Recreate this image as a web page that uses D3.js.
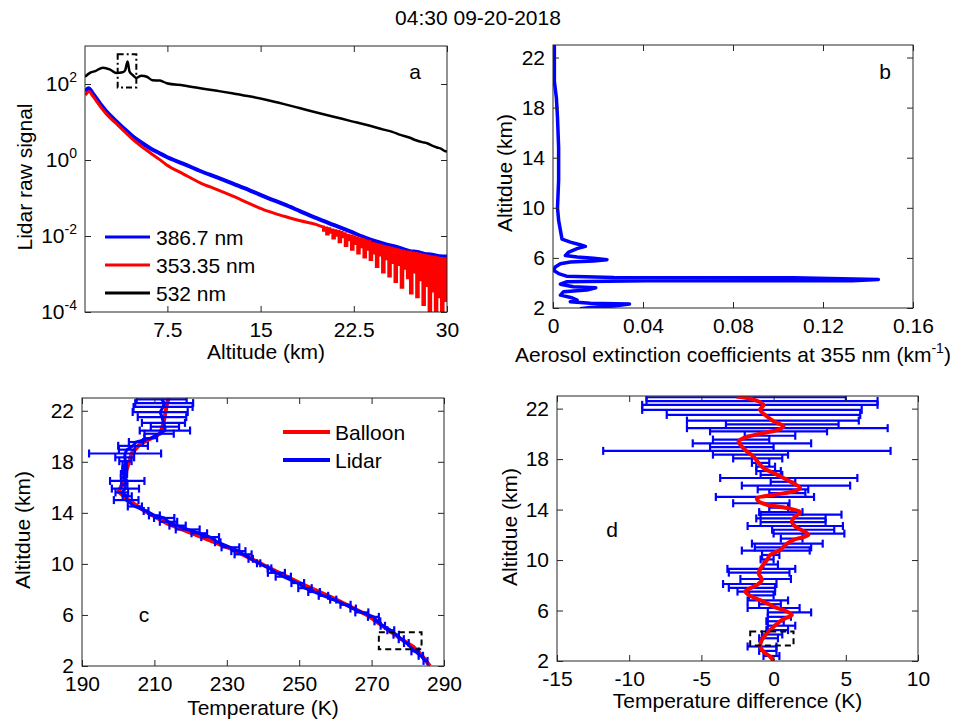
<!DOCTYPE html>
<html>
<head>
<meta charset="utf-8">
<script src="https://cdn.jsdelivr.net/npm/d3@7"></script>
<style>
body { margin: 0; background: #fff; }
text { font-family: "Liberation Sans", Arial, sans-serif; }
</style>
</head>
<body>
<div id="chart"></div>
<script>
// ---- panel a: raw lidar signals (altitude km, log10 of signal)
var blueKm  = [0.9, 1.15, 1.5, 2.08, 2.7, 3.42, 4.1, 4.76, 5.4, 6.11, 6.8, 7.45, 8.8, 10.14, 11.5, 12.82, 14.2, 15.51, 16.9, 18.2, 19.5, 20.88, 22.2, 23.57, 24.9, 26.25, 27.0, 27.6, 28.2, 28.8, 29.4, 30];
var blueLog = [1.80, 1.89, 1.75, 1.49, 1.24, 1.01, 0.80, 0.61, 0.46, 0.31, 0.19, 0.08, -0.10, -0.29, -0.46, -0.63, -0.81, -0.99, -1.17, -1.35, -1.53, -1.71, -1.88, -2.06, -2.20, -2.32, -2.40, -2.42, -2.47, -2.49, -2.53, -2.54];

var redKm  = [0.9, 1.2, 1.5, 2.08, 2.7, 3.42, 4.1, 4.76, 5.4, 6.11, 6.8, 7.45, 8.8, 10.14, 11.5, 12.82, 14.2, 15.51, 16.9, 18.2, 19.5,
  20.0, 20.12, 20.25, 20.38, 20.5, 20.62, 20.75, 20.88, 21.0, 21.12, 21.25, 21.38, 21.5, 21.62, 21.75, 21.88,
  22.0, 22.12, 22.25, 22.38, 22.5, 22.62, 22.75, 22.88, 23.0, 23.12, 23.25, 23.38, 23.5, 23.62, 23.75, 23.88,
  24.0, 24.12, 24.25, 24.38, 24.5, 24.62, 24.75, 24.88, 25.0, 25.12, 25.25, 25.38, 25.5, 25.62, 25.75, 25.88,
  26.0, 26.12, 26.25, 26.38, 26.5, 26.62, 26.75, 26.88, 27.0, 27.12, 27.25, 27.38, 27.5, 27.62, 27.75, 27.88,
  28.0, 28.12, 28.25, 28.38, 28.5, 28.62, 28.75, 28.88, 29.0, 29.12, 29.25, 29.38, 29.5, 29.62, 29.75, 29.88, 30.0];
var redLog = [1.71, 1.80, 1.68, 1.42, 1.17, 0.95, 0.73, 0.53, 0.36, 0.19, 0.03, -0.13, -0.37, -0.60, -0.78, -0.96, -1.16, -1.34, -1.48, -1.60, -1.70,
  -1.76, -1.85, -1.79, -1.95, -1.81, -1.90, -1.84, -2.05, -1.86, -1.98, -1.88, -2.15, -1.91, -2.02, -1.94, -2.25,
  -1.98, -2.10, -2.00, -2.35, -2.02, -2.20, -2.05, -2.45, -2.08, -2.28, -2.10, -2.55, -2.13, -2.35, -2.15, -2.62,
  -2.20, -2.45, -2.22, -2.80, -2.24, -2.50, -2.26, -2.95, -2.28, -2.60, -2.30, -3.05, -2.32, -2.70, -2.34, -3.20,
  -2.36, -2.75, -2.38, -3.35, -2.40, -2.85, -2.42, -3.10, -2.43, -3.50, -2.45, -2.95, -2.46, -3.60, -2.48, -3.15,
  -2.50, -3.80, -2.52, -3.30, -2.53, -4.0, -2.55, -3.45, -2.56, -4.0, -2.58, -3.60, -2.59, -4.0, -2.60, -3.70, -2.62];

var blackKm  = [0.87, 1.3, 1.7, 2.3, 2.9, 3.4, 3.9, 4.1, 4.3, 4.45, 4.7, 5.0, 5.4, 5.85, 6.3, 6.9, 7.45, 8.8, 10.14, 11.5, 12.82, 14.2, 15.51, 16.9, 18.2, 19.5, 20.88, 22.2, 23.57, 24.9, 25.6, 26.25, 26.9, 27.5, 28.0, 28.4, 28.8, 29.2, 29.5, 29.8, 30];
var blackLog = [2.19, 2.30, 2.34, 2.43, 2.38, 2.29, 2.31, 2.36, 2.59, 2.33, 2.24, 2.16, 2.22, 2.19, 2.10, 2.09, 2.02, 1.96, 1.89, 1.82, 1.75, 1.67, 1.58, 1.47, 1.36, 1.25, 1.14, 1.03, 0.92, 0.80, 0.74, 0.66, 0.60, 0.52, 0.47, 0.44, 0.38, 0.33, 0.30, 0.24, 0.22];

var legendA = ["386.7 nm", "353.35 nm", "532 nm"];

// ---- panel b: aerosol extinction at 355 nm
var extAlt = [23.0, 20.1, 18.8, 17.2, 14.8, 12.2, 10.0, 9.0, 8.2, 7.5, 7.26, 7.05, 6.92, 6.74, 6.47, 6.2, 6.07, 5.97, 5.86, 5.76, 5.68, 5.54, 5.28, 5.0, 4.75, 4.54, 4.43, 4.41, 4.28, 4.17, 4.17, 4.09, 3.9, 3.69, 3.61, 3.43, 3.3, 3.03, 2.82, 2.63, 2.5, 2.37, 2.32, 2.16, 2.05, 1.95];
var extVal = [0.0006, 0.0006, 0.0015, 0.002, 0.0025, 0.0025, 0.002, 0.0025, 0.0033, 0.004, 0.0077, 0.012, 0.0144, 0.0107, 0.007, 0.0055, 0.0107, 0.018, 0.024, 0.018, 0.0077, 0.0033, 0.001, 0.0003, 0.0025, 0.006, 0.027, 0.107, 0.1446, 0.133, 0.042, 0.006, 0.0033, 0.009, 0.019, 0.015, 0.0047, 0.0033, 0.0084, 0.0107, 0.0077, 0.0166, 0.034, 0.027, 0.0166, 0.012];

// ---- panel c: balloon and lidar temperature
var balAlt  = [2.0, 2.86, 3.51, 4.17, 5.08, 6.0, 7.3, 8.48, 9.78, 11.09, 12.13, 13.17, 14.2, 15.1, 15.65, 16.2, 17.1, 17.9, 18.7, 19.4, 19.8, 20.2, 21.0, 21.8, 22.6, 23.0];
var balTemp = [286.1, 283.8, 281.5, 277.9, 273.3, 268.7, 259.5, 250.3, 241.1, 231.9, 222.7, 213.5, 207.0, 202.4, 200.1, 201.0, 202.0, 202.9, 203.8, 206.1, 208.9, 211.6, 212.5, 213.0, 213.5, 214.0];

var lidAlt = [22.9, 22.6, 22.3, 21.9, 21.5, 21.05, 20.75, 20.45, 20.2, 19.85, 19.55, 19.25, 18.95, 18.65, 18.35, 18.05, 17.7, 17.4, 17.05, 16.75, 16.5, 16.2, 15.9, 15.6, 15.3, 15.0, 14.5, 14.15, 13.8, 13.6, 13.3, 13.0, 12.7, 12.4, 12.1, 11.7, 11.3, 11.0, 10.75, 10.4, 10.05, 9.65, 9.3, 9.0, 8.5, 8.1, 7.8, 7.5, 7.2, 6.8, 6.5, 6.2, 5.85, 5.5, 5.15, 4.8, 4.45, 4.1, 3.8, 3.15, 2.8, 2.4];
var lidTemp = [212.0, 212.7, 212.4, 211.6, 212.1, 212.5, 212.9, 212.9, 211.3, 209.0, 204.9, 204.1, 202.4, 201.9, 201.8, 202.0, 201.8, 201.8, 201.6, 201.5, 202.5, 201.7, 202.0, 201.0, 202.5, 202.2, 204.6, 207.7, 210.0, 212.7, 213.9, 216.4, 219.2, 222.4, 225.4, 227.5, 231.0, 233.2, 234.5, 236.6, 238.8, 241.8, 243.7, 245.6, 249.6, 251.6, 254.1, 256.7, 259.4, 262.8, 264.9, 267.3, 270.5, 271.6, 273.1, 275.3, 276.8, 278.2, 279.6, 282.0, 283.6, 284.9];
var lidErr = [6.9, 8.0, 8.15, 7.6, 6.7, 5.95, 3.9, 6.95, 4.05, 1.75, 1.95, 4.1, 2.2, 9.95, 2.6, 1.7, 0.6, 0.65, 0.85, 0.75, 4.75, 0.85, 3.75, 1.75, 1.25, 3.4, 1.95, 0.65, 1.5, 2.8, 2.4, 2.25, 3.3, 2.15, 2.45, 0.75, 2.45, 1.95, 2.35, 0.6, 0.45, 0.5, 2.35, 2.1, 1.75, 1.85, 1.6, 1.3, 0.85, 1.4, 0.75, 1.8, 1.5, 0.8, 0.6, 0.95, 0.75, 0.7, 0.65, 1.0, 0.6, 0.55];

// ---- panel d: lidar minus balloon
var tempDiff = [-1.9, -0.8, -0.95, -1.5, -0.7, -0.05, 0.6, 0.95, -0.35, -0.25, -2.25, -1.5, -2.2, -1.85, -1.6, -1.1, -0.9, -0.55, -0.35, -0.15, 1.05, 0.65, 1.55, 0.65, 0.95, -0.6, -0.85, 0.35, 0.5, 1.9, 1.2, 1.35, 1.5, 2.05, 2.45, 1.25, 0.95, 0.65, 0.15, -0.2, -0.45, -0.2, -0.85, -1.0, -0.55, -1.65, -1.5, -1.2, -0.85, -0.4, -0.25, 0, 1.1, 0.4, 0.1, 0.55, 0.25, -0.1, -0.35, -0.8, -0.4, -0.15];
var smAlt  = [22.93, 22.71, 22.3, 21.9, 21.4, 21.0, 20.6, 20.33, 20.07, 19.67, 19.4, 19.0, 18.6, 18.2, 17.69, 17.29, 16.9, 16.5, 16.23, 15.7, 15.44, 15.17, 14.9, 14.65, 14.38, 14.12, 13.8, 13.46, 13.06, 12.66, 12.0, 11.6, 11.2, 10.81, 10.41, 10.0, 9.49, 8.96, 8.43, 8.03, 7.5, 7.1, 6.71, 6.31, 5.92, 5.65, 5.25, 4.72, 4.2, 3.67, 3.14, 2.74, 2.34, 2.0];
var smDiff = [-2.55, -1.39, -0.7, -0.93, -0.47, 0, 0.69, 0.34, -0.7, -2.08, -2.43, -2.2, -1.85, -1.39, -1.04, -0.7, 0, 0.69, 1.14, 1.84, 1.38, 0, -1.15, -1.04, -0.46, 0.92, 1.84, 1.5, 1.27, 1.5, 2.42, 1.38, 0.81, 0.46, -0.23, -0.46, -0.81, -1.04, -0.81, -1.15, -1.96, -1.5, -0.7, 0, 0.92, 1.27, 0.58, 0, -0.46, -0.81, -0.92, -0.7, -0.23, 0];

var FONT = 21;
var svg = d3.select("#chart").append("svg")
  .attr("width", 967)
  .attr("height", 721);

svg.append("text")
  .attr("x", 478).attr("y", 25)
  .attr("text-anchor", "middle")
  .attr("font-size", FONT)
  .text("04:30 09-20-2018");

// draws box, inward ticks (mirrored) and tick labels; returns clipped group for marks
function makePanel(id, box, x, y, xTicks, yTicks, xFmt, yFmt) {
  var g = svg.append("g");
  svg.append("clipPath").attr("id", "clip-" + id)
    .append("rect")
    .attr("x", box.left).attr("y", box.top)
    .attr("width", box.right - box.left).attr("height", box.bottom - box.top);
  var plot = g.append("g").attr("clip-path", "url(#clip-" + id + ")");

  function style(sel) {
    sel.attr("font-size", FONT).attr("font-family", "Liberation Sans, Arial, sans-serif").attr("color", "#000");
    sel.select(".domain").remove();
    sel.selectAll(".tick line").attr("stroke", "#262626");
  }
  g.append("g").attr("transform", `translate(0,${box.bottom})`)
    .call(d3.axisBottom(x).tickValues(xTicks).tickSizeInner(-6).tickSizeOuter(0).tickPadding(10).tickFormat(xFmt))
    .call(style);
  g.append("g").attr("transform", `translate(0,${box.top})`)
    .call(d3.axisTop(x).tickValues(xTicks).tickSizeInner(-6).tickSizeOuter(0).tickFormat(""))
    .call(style);
  var yAxis = g.append("g").attr("transform", `translate(${box.left},0)`)
    .call(d3.axisLeft(y).tickValues(yTicks).tickSizeInner(-6).tickSizeOuter(0).tickPadding(8).tickFormat(yFmt))
    .call(style);
  g.append("g").attr("transform", `translate(${box.right},0)`)
    .call(d3.axisRight(y).tickValues(yTicks).tickSizeInner(-6).tickSizeOuter(0).tickFormat(""))
    .call(style);
  g.append("rect")
    .attr("x", box.left).attr("y", box.top)
    .attr("width", box.right - box.left).attr("height", box.bottom - box.top)
    .attr("fill", "none").attr("stroke", "#262626").attr("stroke-width", 1);
  return { plot: plot, g: g, yAxis: yAxis };
}

function axisLabels(box, xLabel, xBase, yLabel, yCx, yCy) {
  var xl = svg.append("text")
    .attr("x", (box.left + box.right) / 2).attr("y", xBase)
    .attr("text-anchor", "middle").attr("font-size", FONT);
  if (typeof xLabel === "function") xLabel(xl); else xl.text(xLabel);
  svg.append("text")
    .attr("transform", `translate(${yCx + 7},${yCy}) rotate(-90)`)
    .attr("text-anchor", "middle").attr("font-size", FONT)
    .text(yLabel);
}

function panelLetter(x, y, s) {
  svg.append("text").attr("x", x).attr("y", y).attr("dy", "0.35em")
    .attr("text-anchor", "middle").attr("font-size", FONT).text(s);
}

// ================= panel a
var boxA = { left: 85, right: 447, top: 46, bottom: 312 };
var xA = d3.scaleLinear().domain([0.87, 30]).range([boxA.left, boxA.right]);
var yA = d3.scaleLog().domain([1e-4, 1e3]).range([boxA.bottom, boxA.top]);
var pA = makePanel("a", boxA, xA, yA, [7.5, 15, 22.5, 30], [1e-4, 1e-2, 1, 1e2], d => String(d), "");
pA.yAxis.selectAll(".tick text").each(function(d) {
  var t = d3.select(this);
  t.text("10");
  t.append("tspan").attr("dy", -9).attr("font-size", 14).text(Math.round(Math.log10(d)));
});

var lineA = d3.line().x(d => xA(d[0])).y(d => yA(Math.pow(10, d[1]))).curve(d3.curveMonotoneX);
var stepA = d3.line().x(d => xA(d[0])).y(d => yA(Math.pow(10, d[1]))).curve(d3.curveStep);
var redPts = d3.zip(redKm, redLog);
pA.plot.append("path").datum(d3.zip(blueKm, blueLog)).attr("d", lineA)
  .attr("fill", "none").attr("stroke", "#0000ff").attr("stroke-width", 4);
pA.plot.append("path").datum(redPts.filter(d => d[0] <= 20)).attr("d", lineA)
  .attr("fill", "none").attr("stroke", "#ff0000").attr("stroke-width", 3);
pA.plot.append("path").datum(redPts.filter(d => d[0] >= 20)).attr("d", stepA)
  .attr("fill", "none").attr("stroke", "#ff0000").attr("stroke-width", 3);
pA.plot.append("path").datum(d3.zip(blackKm, blackLog)).attr("d", lineA)
  .attr("fill", "none").attr("stroke", "#000").attr("stroke-width", 2.5);
// dash-dot box around the spike
pA.plot.append("rect")
  .attr("x", xA(3.5)).attr("y", yA(Math.pow(10, 2.78)))
  .attr("width", xA(5.0) - xA(3.5)).attr("height", yA(Math.pow(10, 1.91)) - yA(Math.pow(10, 2.78)))
  .attr("fill", "none").attr("stroke", "#000").attr("stroke-width", 2).attr("stroke-dasharray", "6,3,2,3");

var colA = ["#0000ff", "#ff0000", "#000"];
legendA.forEach(function(s, i) {
  var yy = 237 + i * 28;
  svg.append("line").attr("x1", 105).attr("x2", 150).attr("y1", yy).attr("y2", yy)
    .attr("stroke", colA[i]).attr("stroke-width", 3);
  svg.append("text").attr("x", 156).attr("y", yy).attr("dy", "0.36em").attr("font-size", FONT).text(s);
});
panelLetter(415, 72, "a");
axisLabels(boxA, "Altitude (km)", 359, "Lidar raw signal", 25, 177);

// ================= panel b
var boxB = { left: 553, right: 913, top: 45, bottom: 308 };
var xB = d3.scaleLinear().domain([0, 0.16]).range([boxB.left, boxB.right]);
var yB = d3.scaleLinear().domain([2, 23]).range([boxB.bottom, boxB.top]);
var pB = makePanel("b", boxB, xB, yB, [0, 0.04, 0.08, 0.12, 0.16], [2, 6, 10, 14, 18, 22], d => String(d), d => String(d));
pB.plot.append("path").datum(d3.zip(extVal, extAlt))
  .attr("d", d3.line().x(d => xB(d[0])).y(d => yB(d[1])))
  .attr("fill", "none").attr("stroke", "#0000ff").attr("stroke-width", 3.5).attr("stroke-linejoin", "round");
panelLetter(885, 72, "b");
axisLabels(boxB, function(t) {
  t.text("Aerosol extinction coefficients at 355 nm (km");
  t.append("tspan").attr("dy", -9).attr("font-size", 14).text("-1");
  t.append("tspan").attr("dy", 9).text(")");
}, 362, "Altitdue (km)", 505, 173);

// ================= panel c
var boxC = { left: 82, right: 444, top: 398, bottom: 666 };
var xC = d3.scaleLinear().domain([190, 290]).range([boxC.left, boxC.right]);
var yC = d3.scaleLinear().domain([2, 23]).range([boxC.bottom, boxC.top]);
var pC = makePanel("c", boxC, xC, yC, [190, 210, 230, 250, 270, 290], [2, 6, 10, 14, 18, 22], d => String(d), d => String(d));
pC.plot.append("path").datum(d3.zip(balTemp, balAlt))
  .attr("d", d3.line().x(d => xC(d[0])).y(d => yC(d[1])))
  .attr("fill", "none").attr("stroke", "#ff0000").attr("stroke-width", 4);

var lid = d3.range(lidAlt.length).map(i => ({ alt: lidAlt[i], t: lidTemp[i], e: lidErr[i], d: tempDiff[i] }));

function errorBars(plot, x, y, lo, hi) {
  var eb = plot.append("g").attr("stroke", "#0000ff").attr("stroke-width", 2.2);
  eb.selectAll(".bar").data(lid).enter().append("line")
    .attr("x1", d => x(lo(d))).attr("x2", d => x(hi(d)))
    .attr("y1", d => y(d.alt)).attr("y2", d => y(d.alt));
  eb.selectAll(".capl").data(lid).enter().append("line")
    .attr("x1", d => x(lo(d))).attr("x2", d => x(lo(d)))
    .attr("y1", d => y(d.alt) - 4).attr("y2", d => y(d.alt) + 4);
  eb.selectAll(".capr").data(lid).enter().append("line")
    .attr("x1", d => x(hi(d))).attr("x2", d => x(hi(d)))
    .attr("y1", d => y(d.alt) - 4).attr("y2", d => y(d.alt) + 4);
}
errorBars(pC.plot, xC, yC, d => d.t - d.e, d => d.t + d.e);
pC.plot.append("path").datum(lid)
  .attr("d", d3.line().x(d => xC(d.t)).y(d => yC(d.alt)))
  .attr("fill", "none").attr("stroke", "#0000ff").attr("stroke-width", 3);
pC.plot.append("rect")
  .attr("x", xC(272)).attr("y", yC(4.64))
  .attr("width", xC(283.8) - xC(272)).attr("height", yC(3.31) - yC(4.64))
  .attr("fill", "none").attr("stroke", "#000").attr("stroke-width", 2).attr("stroke-dasharray", "6,4");

[["Balloon", "#ff0000", 432], ["Lidar", "#0000ff", 460]].forEach(function(l) {
  svg.append("line").attr("x1", 283).attr("x2", 330).attr("y1", l[2]).attr("y2", l[2])
    .attr("stroke", l[1]).attr("stroke-width", 4);
  svg.append("text").attr("x", 335).attr("y", l[2]).attr("dy", "0.36em").attr("font-size", FONT).text(l[0]);
});
panelLetter(144, 615, "c");
axisLabels(boxC, "Temperature (K)", 715, "Altitdue (km)", 23, 530);

// ================= panel d
var boxD = { left: 557, right: 918, top: 396, bottom: 661 };
var xD = d3.scaleLinear().domain([-15, 10]).range([boxD.left, boxD.right]);
var yD = d3.scaleLinear().domain([2, 23]).range([boxD.bottom, boxD.top]);
var pD = makePanel("d", boxD, xD, yD, [-15, -10, -5, 0, 5, 10], [2, 6, 10, 14, 18, 22], d => String(d), d => String(d));
errorBars(pD.plot, xD, yD, d => d.d - d.e, d => d.d + d.e);
pD.plot.append("path").datum(d3.zip(smDiff, smAlt))
  .attr("d", d3.line().x(d => xD(d[0])).y(d => yD(d[1])).curve(d3.curveCatmullRom))
  .attr("fill", "none").attr("stroke", "#ff0000").attr("stroke-width", 4);
pD.plot.append("rect")
  .attr("x", xD(-1.62)).attr("y", yD(4.33))
  .attr("width", xD(1.38) - xD(-1.62)).attr("height", yD(3.22) - yD(4.33))
  .attr("fill", "none").attr("stroke", "#000").attr("stroke-width", 2).attr("stroke-dasharray", "6,4");
panelLetter(612, 530, "d");
axisLabels(boxD, "Temperature difference (K)", 708, "Altitdue (km)", 510, 527);
</script>
</body>
</html>
